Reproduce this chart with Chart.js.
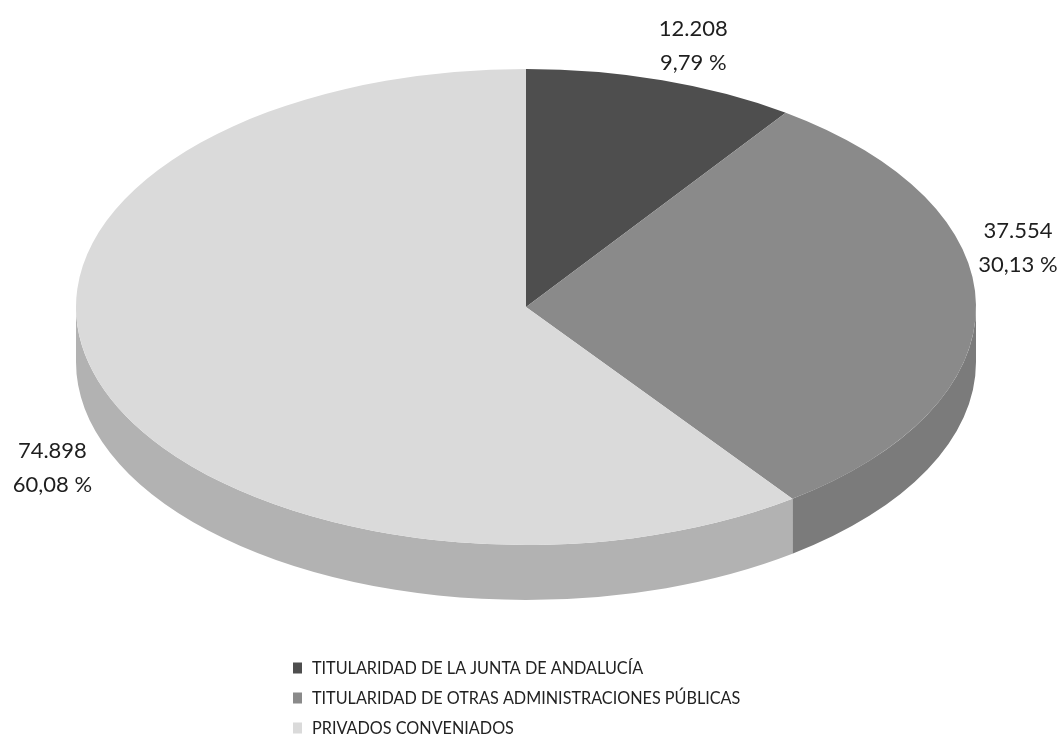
<!DOCTYPE html>
<html>
<head>
<meta charset="utf-8">
<script src="https://cdn.jsdelivr.net/npm/chart.js@4.4.0/dist/chart.umd.min.js"></script>
<style>
  html, body { margin: 0; padding: 0; background: #ffffff; }
  canvas { display: block; }
</style>
</head>
<body>
<canvas id="chart" width="1061" height="740"></canvas>
<script>
// data
const categories = [
  'TITULARIDAD DE LA JUNTA DE ANDALUCÍA',
  'TITULARIDAD DE OTRAS ADMINISTRACIONES PÚBLICAS',
  'PRIVADOS CONVENIADOS'
];
const plazas = [12208, 37554, 74898];
const porcentajes = [9.79, 30.13, 60.08];

const topColors = ['#4e4e4e', '#8a8a8a', '#dadada'];
const sideColors = ['#404040', '#7b7b7b', '#b2b2b2'];

const fmtNum = v => String(v).replace(/\B(?=(\d{3})+(?!\d))/g, '.');
const fmtPct = v => v.toFixed(2).replace('.', ',') + ' %';

// squash / stretch the pie into an ellipse and give it a side wall
const pie3d = {
  id: 'pie3d',
  beforeDatasetsDraw(chart, args, opts) {
    const ctx = chart.ctx;
    const arcs = chart.getDatasetMeta(0).data;
    const cx = arcs[0].x, cy = arcs[0].y;
    ctx.save();
    ctx.translate(cx, 0);
    ctx.scale(opts.aspect, 1);
    ctx.translate(-cx, 0);
    arcs.forEach((arc, i) => {
      const s = Math.max(arc.startAngle, 0);
      const e = Math.min(arc.endAngle, Math.PI);
      if (e <= s) return;
      const r = arc.outerRadius;
      ctx.beginPath();
      ctx.arc(cx, cy, r, s, e);
      ctx.arc(cx, cy + opts.depth, r, e, s, true);
      ctx.closePath();
      ctx.fillStyle = sideColors[i];
      ctx.fill();
    });
  },
  afterDatasetsDraw(chart) {
    chart.ctx.restore();
  }
};

const sliceLabels = {
  id: 'sliceLabels',
  afterDraw(chart, args, opts) {
    const ctx = chart.ctx;
    const arcs = chart.getDatasetMeta(0).data;
    ctx.save();
    ctx.font = opts.font;
    ctx.fillStyle = opts.color;
    ctx.textAlign = 'center';
    ctx.textBaseline = 'middle';
    arcs.forEach((arc, i) => {
      const mid = (arc.startAngle + arc.endAngle) / 2;
      const rx = arc.outerRadius * opts.aspect + opts.gap;
      const ry = arc.outerRadius + opts.gap;
      let x = arc.x + rx * Math.cos(mid);
      let y = arc.y + ry * Math.sin(mid);
      if (Math.sin(mid) > 0) y += opts.depth;
      x += opts.nudge[i][0];
      y += opts.nudge[i][1];
      ctx.fillText(fmtNum(plazas[i]), x, y - opts.lineGap / 2);
      ctx.fillText(fmtPct(porcentajes[i]), x, y + opts.lineGap / 2);
    });
    ctx.restore();
  }
};

// vertical, left-aligned legend under the pie (narrowed text like the original)
const listLegend = {
  id: 'listLegend',
  afterDraw(chart, args, opts) {
    const ctx = chart.ctx;
    const colors = chart.data.datasets[0].backgroundColor;
    ctx.save();
    ctx.font = opts.font;
    ctx.textBaseline = 'middle';
    chart.data.labels.forEach((label, i) => {
      const y = opts.top + i * opts.rowHeight;
      ctx.fillStyle = colors[i];
      ctx.fillRect(opts.x, y - opts.boxH / 2, opts.boxW, opts.boxH);
      ctx.fillStyle = opts.color;
      const tx = opts.x + opts.boxW + 10;
      ctx.save();
      ctx.translate(tx, y);
      ctx.scale(opts.squeeze, 1);
      ctx.fillText(label, 0, 0);
      ctx.restore();
    });
    ctx.restore();
  }
};

const ASPECT = 450 / 238;
const DEPTH = 55;

new Chart(document.getElementById('chart'), {
  type: 'pie',
  data: {
    labels: categories,
    datasets: [{
      data: plazas,
      backgroundColor: topColors,
      borderWidth: 0,
      hoverOffset: 0,
      clip: false
    }]
  },
  options: {
    responsive: false,
    animation: false,
    events: [],
    layout: { padding: { top: 69, bottom: 195, left: 0, right: 9 } },
    plugins: {
      legend: { display: false },
      tooltip: { enabled: false },
      pie3d: { aspect: ASPECT, depth: DEPTH },
      sliceLabels: {
        aspect: ASPECT,
        depth: DEPTH,
        gap: 20,
        lineGap: 34,
        font: '22px Lato',
        color: '#1e1e1e',
        nudge: [[25, -15], [22, -57], [-27, 26]]
      },
      listLegend: {
        x: 293, top: 668, rowHeight: 30, boxW: 9, boxH: 11,
        font: '18px Lato', color: '#222222', squeeze: 0.9
      }
    }
  },
  plugins: [pie3d, sliceLabels, listLegend]
});
</script>
</body>
</html>
